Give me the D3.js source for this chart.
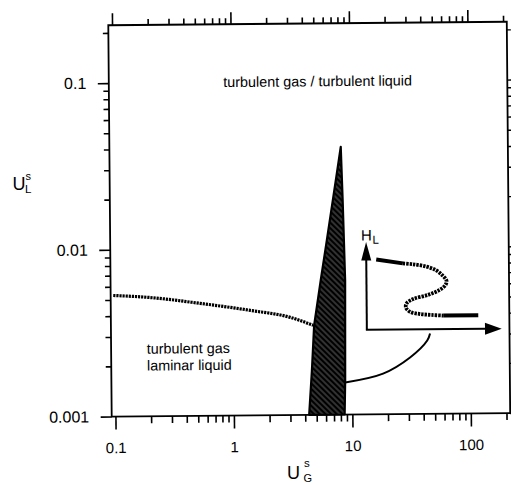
<!DOCTYPE html>
<html>
<head>
<meta charset="utf-8">
<script src="https://cdn.jsdelivr.net/npm/d3@7"></script>
<style>
  html, body { margin: 0; padding: 0; background: #fff; }
  svg { display: block; font-family: "Liberation Sans", Arial, Helvetica, sans-serif; }
  svg text { fill: #000; }
</style>
</head>
<body>
<svg id="chart" width="511" height="485"></svg>
<script>
// Flow regime map: superficial liquid velocity U_L^s against superficial gas velocity U_G^s (log-log)

const xTickMajors = [0.1, 1, 10, 100];
const xTickLabels = ["0.1", "1", "10", "100"];
const yTickMajors = [0.001, 0.01, 0.1];
const yTickLabels = ["0.001", "0.01", "0.1"];

// laminar / turbulent liquid transition
const transitionUG = [0.0978, 0.200, 0.530, 1.40, 3.04, 4.74];
const transitionUL = [0.00532, 0.00515, 0.00472, 0.00426, 0.00385, 0.00344];

// region of multiple holdup solutions: left edge upward, then right edge downward
const wedgeUG = [4.32, 4.59, 4.83, 5.53, 6.27, 6.95, 7.71, 8.35, 8.59, 8.89, 8.75, 8.61];
const wedgeUL = [0.001, 0.00184, 0.00344, 0.00638, 0.0111, 0.0176, 0.0280, 0.0403, 0.0193, 0.00636, 0.00160, 0.001];

// leader from the wedge to the sketch
const leaderUG = [8.75, 18.3, 31.0, 43.4, 45.9];
const leaderUL = [0.001556, 0.00175, 0.00218, 0.00275, 0.00303];

// sketch of holdup H_L vs gas velocity, in unit sketch coordinates
const sketchTopU = [0.074, 0.271];
const sketchTopV = [0.799, 0.753];
const sketchWaveU = [0.271, 0.345, 0.444, 0.519, 0.567, 0.593, 0.587, 0.543, 0.456, 0.345, 0.296, 0.291, 0.321, 0.395, 0.481, 0.567];
const sketchWaveV = [0.753, 0.742, 0.715, 0.669, 0.608, 0.555, 0.506, 0.449, 0.392, 0.346, 0.297, 0.251, 0.201, 0.175, 0.163, 0.155];
const sketchLowU = [0.567, 0.827];
const sketchLowV = [0.155, 0.155];

const regionLabels = [
  { lines: ["turbulent gas / turbulent liquid"], ug: 0.86, ul: 0.0933 },
  { lines: ["turbulent gas", "laminar liquid"], ug: 0.186, ul: 0.00237 }
];

const svg = d3.select("#chart");

// plot frame
const frameLeft = 110, frameRight = 508.5, frameTop = 23.5, frameBottom = 414.8, yAxisTop = 28.3;

const x = d3.scaleLog().domain([0.093, 215]).range([frameLeft, frameRight]);
const y = d3.scaleLog().domain([0.001, 0.208]).range([frameBottom, yAxisTop]);

// dense diagonal hatching for the wedge
const defs = svg.append("defs");
const pat = defs.append("pattern")
  .attr("id", "hatch")
  .attr("patternUnits", "userSpaceOnUse")
  .attr("width", 4).attr("height", 4)
  .attr("patternTransform", "rotate(-45)");
pat.append("rect").attr("width", 4).attr("height", 4).attr("fill", "#000");
pat.append("line").attr("x1", 2).attr("y1", 0).attr("x2", 2).attr("y2", 4)
  .attr("stroke", "#fff").attr("stroke-width", 0.7).attr("opacity", 0.55);

const g = svg.append("g").attr("transform", "rotate(-0.5, 310, 220)");

// tick sets
function logTicks(lo, hi) {
  const t = [];
  for (let e = -4; e <= 3; e++) {
    for (let m = 1; m <= 9; m++) {
      const v = +(m * Math.pow(10, e)).toPrecision(3);
      if (v >= lo && v <= hi) t.push(v);
    }
  }
  return t;
}
const isMajor = d => Math.abs(Math.log10(d) - Math.round(Math.log10(d))) < 1e-6;
const xt = logTicks(x.domain()[0], x.domain()[1]);
const yt = logTicks(y.domain()[0] * 0.999, y.domain()[1]);
const fmtX = d => { const i = xTickMajors.findIndex(v => Math.abs(v - d) < 1e-9); return i >= 0 ? xTickLabels[i] : ""; };
const fmtY = d => { const i = yTickMajors.findIndex(v => Math.abs(v - d) < 1e-9); return i >= 0 ? yTickLabels[i] : ""; };

// frame
g.append("rect")
  .attr("x", frameLeft).attr("y", frameTop)
  .attr("width", frameRight - frameLeft).attr("height", frameBottom - frameTop)
  .attr("fill", "none").attr("stroke", "#000").attr("stroke-width", 1.8);

// bottom axis
const gxB = g.append("g").attr("transform", `translate(0,${frameBottom})`)
  .call(d3.axisBottom(x).tickValues(xt).tickSize(13).tickPadding(13).tickFormat(fmtX));
gxB.select(".domain").remove();
gxB.selectAll(".tick line").attr("y2", d => isMajor(d) ? 13 : 7).attr("stroke-width", 1.6);
gxB.selectAll(".tick text").attr("font-size", 15).attr("font-family", "Liberation Sans, Arial, sans-serif").attr("fill", "#000");

// top axis
const gxT = g.append("g").attr("transform", `translate(0,${frameTop})`)
  .call(d3.axisTop(x).tickValues(xt).tickSize(12).tickFormat(""));
gxT.select(".domain").remove();
gxT.selectAll(".tick line").attr("y2", d => isMajor(d) ? -12 : -6).attr("stroke-width", 1.6);

// left axis
const gyL = g.append("g").attr("transform", `translate(${frameLeft},0)`)
  .call(d3.axisLeft(y).tickValues(yt).tickSize(11).tickPadding(11.5).tickFormat(fmtY));
gyL.select(".domain").remove();
gyL.selectAll(".tick line").attr("x2", d => isMajor(d) ? -11 : -5.5).attr("stroke-width", 1.6);
gyL.selectAll(".tick text").attr("font-size", 16).attr("font-family", "Liberation Sans, Arial, sans-serif").attr("fill", "#000");

// right axis
const gyR = g.append("g").attr("transform", `translate(${frameRight},0)`)
  .call(d3.axisRight(y).tickValues(yt).tickSize(4).tickFormat(""));
gyR.select(".domain").remove();
gyR.selectAll(".tick line").attr("stroke-width", 1.4);

// transition line
const transition = transitionUG.map((v, i) => [v, transitionUL[i]]);
g.append("path")
  .datum(transition)
  .attr("d", d3.line().x(d => x(d[0])).y(d => y(d[1])).curve(d3.curveMonotoneX))
  .attr("fill", "none").attr("stroke", "#000")
  .attr("stroke-width", 3.2).attr("stroke-dasharray", "2.2,0.9");

// wedge of multiple solutions
const wedge = wedgeUG.map((v, i) => [v, wedgeUL[i]]);
g.append("path")
  .datum(wedge)
  .attr("d", d3.line().x(d => x(d[0])).y(d => y(d[1]))(wedge) + "Z")
  .attr("fill", "url(#hatch)").attr("stroke", "#000")
  .attr("stroke-width", 2.2).attr("stroke-linejoin", "round");

// leader curve
const leader = leaderUG.map((v, i) => [v, leaderUL[i]]);
g.append("path")
  .datum(leader)
  .attr("d", d3.line().x(d => x(d[0])).y(d => y(d[1])).curve(d3.curveCatmullRom))
  .attr("fill", "none").attr("stroke", "#000").attr("stroke-width", 2);

// region labels
regionLabels.forEach(lab => {
  const t = g.append("text")
    .attr("x", x(lab.ug)).attr("y", y(lab.ul))
    .attr("font-size", 14.4).attr("fill", "#000");
  lab.lines.forEach((ln, i) => {
    t.append("tspan").attr("x", x(lab.ug)).attr("dy", i === 0 ? 0 : 16.8).text(ln);
  });
});

// sketch of H_L against U_G
const su = d3.scaleLinear().domain([0, 1]).range([x(13.45), x(185)]);
const sv = d3.scaleLinear().domain([0, 1]).range([y(0.00321), y(0.0108)]);
const sketch = g.append("g");
const ox = su(0), oy = sv(0);
sketch.append("line").attr("x1", ox).attr("y1", oy).attr("x2", ox).attr("y2", sv(0.8))
  .attr("stroke", "#000").attr("stroke-width", 2);
sketch.append("line").attr("x1", ox - 1).attr("y1", oy).attr("x2", su(0.88)).attr("y2", oy)
  .attr("stroke", "#000").attr("stroke-width", 2);
sketch.append("path")
  .attr("d", `M${ox},${sv(1)} L${ox - 5},${sv(0.79)} L${ox + 5},${sv(0.79)} Z`)
  .attr("fill", "#000");
sketch.append("path")
  .attr("d", `M${su(1)},${oy} L${su(0.876)},${oy - 6} L${su(0.876)},${oy + 6} Z`)
  .attr("fill", "#000");
const sLine = d3.line().x(d => su(d[0])).y(d => sv(d[1]));
sketch.append("path")
  .datum(sketchTopU.map((u, i) => [u, sketchTopV[i]]))
  .attr("d", sLine).attr("fill", "none").attr("stroke", "#000").attr("stroke-width", 4);
sketch.append("path")
  .datum(sketchWaveU.map((u, i) => [u, sketchWaveV[i]]))
  .attr("d", d3.line().x(d => su(d[0])).y(d => sv(d[1])).curve(d3.curveCatmullRom))
  .attr("fill", "none").attr("stroke", "#000").attr("stroke-width", 3.8)
  .attr("stroke-dasharray", "2.4,1");
sketch.append("path")
  .datum(sketchLowU.map((u, i) => [u, sketchLowV[i]]))
  .attr("d", sLine)
  .attr("fill", "none").attr("stroke", "#000").attr("stroke-width", 4);
sketch.append("text").attr("x", ox - 5.2).attr("y", sv(1) - 1.5)
  .attr("font-size", 15).attr("fill", "#000").text("H");
sketch.append("text").attr("x", ox + 6.5).attr("y", sv(1) + 1.8)
  .attr("font-size", 11.5).attr("fill", "#000").text("L");

// axis titles
const ty = svg.append("g");
ty.append("text").attr("x", 12.5).attr("y", 189.5).attr("font-size", 18).text("U");
ty.append("text").attr("x", 25.5).attr("y", 180).attr("font-size", 11).text("s");
ty.append("text").attr("x", 25).attr("y", 192.5).attr("font-size", 11.5).text("L");

const tx = svg.append("g");
tx.append("text").attr("x", 287).attr("y", 479).attr("font-size", 18).text("U");
tx.append("text").attr("x", 304).attr("y", 467).attr("font-size", 11.5).text("s");
tx.append("text").attr("x", 303.5).attr("y", 482).attr("font-size", 11).text("G");
</script>
</body>
</html>
